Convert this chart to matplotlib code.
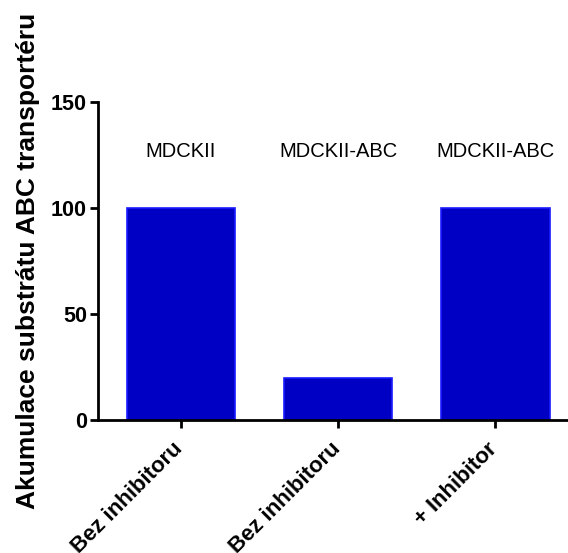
import numpy as np
import matplotlib.pyplot as plt
import matplotlib.transforms as mtransforms

plt.rcParams['font.family'] = ['Liberation Sans', 'DejaVu Sans']

groups = ["Bez inhibitoru", "Bez inhibitoru", "+ Inhibitor"]
cell_lines = ["MDCKII", "MDCKII-ABC", "MDCKII-ABC"]
values = [100, 20, 100]

fig = plt.figure(figsize=(5.68, 5.53), dpi=100)
ax = fig.add_axes([0.1725, 0.2405, 0.826, 0.5751])

x = np.arange(len(values))
ax.bar(x, values, width=0.69, color="#0000c4", edgecolor="#1a1aff", linewidth=1.2)

for i, name in enumerate(cell_lines):
    ax.text(i, 126.5, name, ha="center", va="center", fontsize=14.5)

ax.set_xlim(-0.527, 2.457)
ax.set_ylim(0, 150)
ax.set_yticks([0, 50, 100, 150])
ax.set_xticks(x)

ax.spines["top"].set_visible(False)
ax.spines["right"].set_visible(False)
ax.spines["left"].set_linewidth(2)
ax.spines["bottom"].set_linewidth(2)
ax.tick_params(axis="both", width=2, length=6, pad=2)
ax.tick_params(axis="x", pad=7.5)

ax.set_xticklabels(groups, rotation=45, ha="right", rotation_mode="anchor",
                   fontsize=16, fontweight="bold")
# nudge rotated labels a little to the left, like the original
# (after tick_params, which would reset the transform)
shift = mtransforms.ScaledTranslation(-6 / 72, 0, fig.dpi_scale_trans)
for lab in ax.get_xticklabels():
    lab.set_transform(lab.get_transform() + shift)
for lab in ax.get_yticklabels():
    lab.set_fontweight("bold")
    lab.set_fontsize(15.5)

ax.set_ylabel("Akumulace substrátu ABC transportéru", fontsize=19,
              fontweight="bold", labelpad=8)

fig.savefig("out.png", dpi=100)
